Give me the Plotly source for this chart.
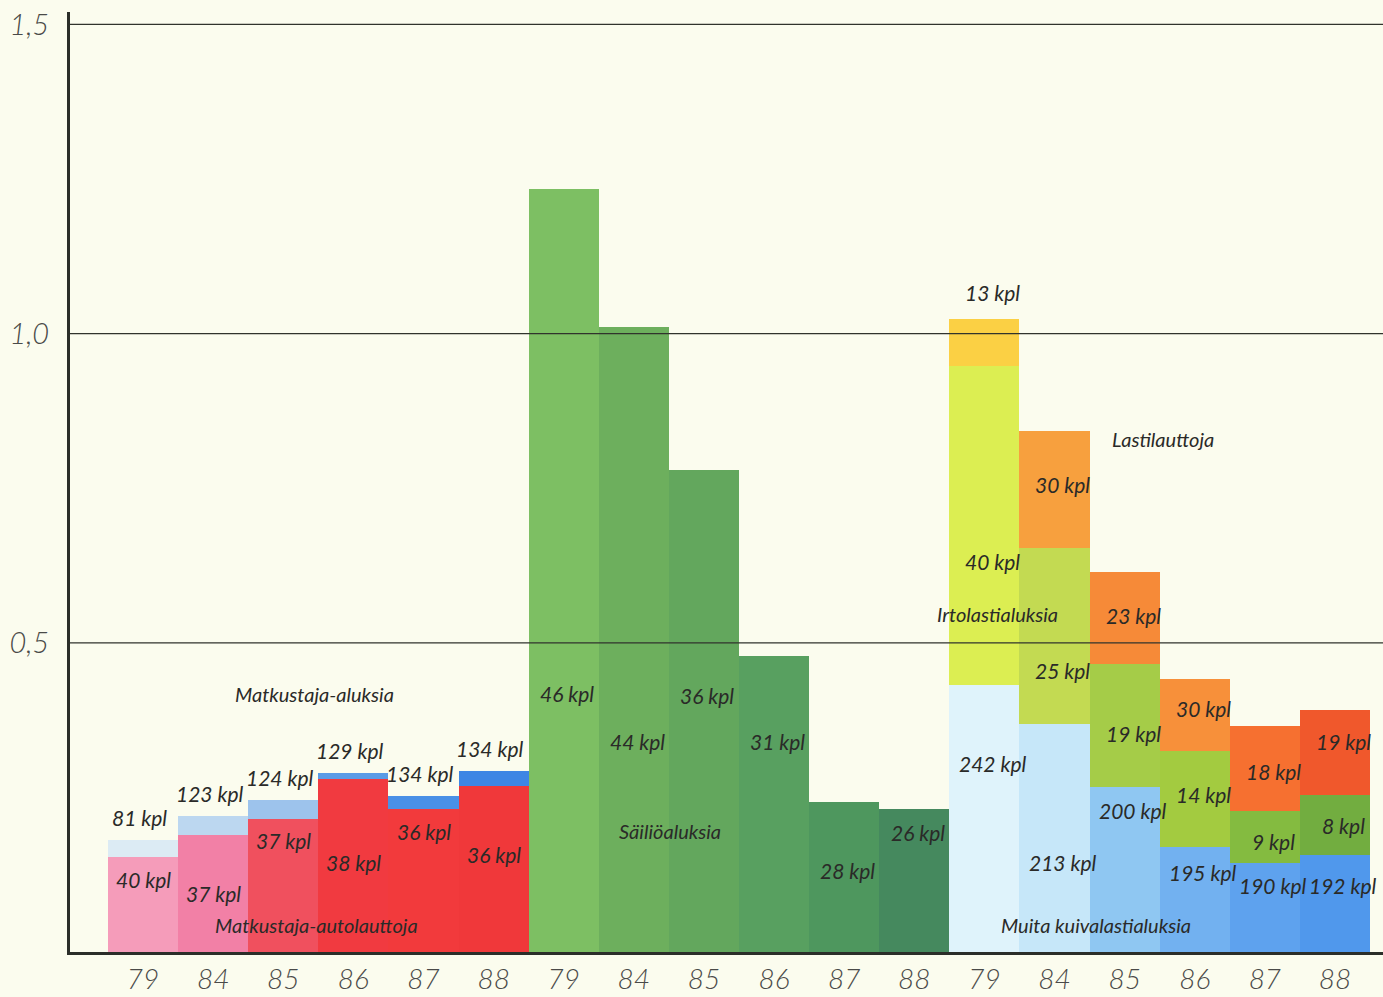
import plotly.graph_objects as go

# --- Data (million gross tons per vessel type and year) ---
years = ["79", "84", "85", "86", "87", "88"]

# Passenger vessels: car-passenger ferries (lower) + passenger ships (upper segment)
autolauttoja = [0.153, 0.189, 0.215, 0.279, 0.231, 0.269]
aluksia = [0.028, 0.031, 0.030, 0.011, 0.022, 0.023]

# Tankers
sailio = [1.234, 1.010, 0.779, 0.479, 0.243, 0.232]

# Dry cargo: other dry cargo (lower), bulk carriers (middle), cargo ferries (upper)
kuivalasti = [0.431, 0.368, 0.267, 0.169, 0.144, 0.157]
irtolasti = [0.516, 0.285, 0.199, 0.156, 0.084, 0.097]
lastilautat = [0.077, 0.189, 0.148, 0.117, 0.137, 0.137]

# Ship counts
autolauttoja_kpl = ["40 kpl", "37 kpl", "37 kpl", "38 kpl", "36 kpl", "36 kpl"]
aluksia_kpl = ["81 kpl", "123 kpl", "124 kpl", "129 kpl", "134 kpl", "134 kpl"]
sailio_kpl = ["46 kpl", "44 kpl", "36 kpl", "31 kpl", "28 kpl", "26 kpl"]
kuivalasti_kpl = ["242 kpl", "213 kpl", "200 kpl", "195 kpl", "190 kpl", "192 kpl"]
irtolasti_kpl = ["40 kpl", "25 kpl", "19 kpl", "14 kpl", "9 kpl", "8 kpl"]
lastilautat_kpl = ["13 kpl", "30 kpl", "23 kpl", "30 kpl", "18 kpl", "19 kpl"]

y_ticks = [0.5, 1.0, 1.5]
y_tick_text = ["0,5", "1,0", "1,5"]

# --- Styling ---
BG = "#fbfcee"
INK = "#2a2a28"
FONT = "Lato"

c_autolautta = ["#f59cba", "#f280a6", "#f0505e", "#f13a40", "#f23a3c", "#f0383a"]
c_aluksia = ["#dcebf4", "#bcd7f0", "#9dc3ec", "#5a9be6", "#4a90e6", "#3e86e4"]
c_sailio = ["#7dbf63", "#6daf5d", "#63a75d", "#58a060", "#4e975e", "#45895e"]
c_kuiva = ["#dff3fb", "#c6e7f9", "#8fc7f2", "#72b1f0", "#5ea2ee", "#5098ec"]
c_irto = ["#dcee52", "#c3da52", "#a5cc48", "#a3cb40", "#84bb40", "#72ad40"]
c_lasti = ["#fbd044", "#f7a03e", "#f68a38", "#f7903a", "#f67030", "#f0582c"]

# Label heights inside the bars
autolauttoja_label_y = [0.118, 0.095, 0.181, 0.145, 0.195, 0.157]
sailio_label_y = [0.418, 0.341, 0.415, 0.341, 0.132, 0.194]
kuivalasti_label_y = [0.305, 0.144, 0.229, 0.129, 0.107, 0.107]
irtolasti_label_y = [0.632, 0.456, 0.354, 0.254, 0.179, 0.205]
lastilautat_label_y = [1.066, 0.756, 0.544, 0.393, 0.292, 0.341]

n = len(years)
g1 = list(range(0, n))
g2 = list(range(n, 2 * n))
g3 = list(range(2 * n, 3 * n))

fig = go.Figure()


def add_bar(xs, ys, colors, name):
    fig.add_trace(go.Bar(
        x=xs, y=ys, name=name, width=1.0,
        marker=dict(color=colors, line=dict(width=0)),
        hoverinfo="name+y",
    ))


add_bar(g1, autolauttoja, c_autolautta, "Matkustaja-autolauttoja")
add_bar(g1, aluksia, c_aluksia, "Matkustaja-aluksia")
add_bar(g2, sailio, c_sailio, "Säiliöaluksia")
add_bar(g3, kuivalasti, c_kuiva, "Muita kuivalastialuksia")
add_bar(g3, irtolasti, c_irto, "Irtolastialuksia")
add_bar(g3, lastilautat, c_lasti, "Lastilauttoja")

annotations = []


def label(x, y, text, size=21, yanchor="middle", yshift=0):
    annotations.append(dict(
        x=x, y=y, text=text, showarrow=False, xref="x", yref="y",
        xanchor="center", yanchor=yanchor, yshift=yshift,
        font=dict(family=FONT, size=size, color=INK, style="italic"),
    ))


totals_g1 = [a + b for a, b in zip(autolauttoja, aluksia)]
for i in range(n):
    label(g1[i] - 0.05, totals_g1[i], aluksia_kpl[i], yanchor="bottom", yshift=8)
    label(g1[i], autolauttoja_label_y[i], autolauttoja_kpl[i])
    label(g2[i] + 0.05, sailio_label_y[i], sailio_kpl[i])
    label(g3[i] + 0.12, kuivalasti_label_y[i], kuivalasti_kpl[i])
    label(g3[i] + 0.12, irtolasti_label_y[i], irtolasti_kpl[i])
    label(g3[i] + 0.12, lastilautat_label_y[i], lastilautat_kpl[i])

# Series names
label(2.45, 0.418, "Matkustaja-aluksia", size=20)
label(2.47, 0.044, "Matkustaja-autolauttoja", size=20)
label(7.52, 0.195, "Säiliöaluksia", size=20)
label(12.18, 0.546, "Irtolastialuksia", size=20)
label(14.54, 0.830, "Lastilauttoja", size=20)
label(13.59, 0.044, "Muita kuivalastialuksia", size=20)

# Horizontal reference lines drawn over the bars
shapes = [
    dict(type="line", xref="paper", x0=0, x1=1, yref="y", y0=v, y1=v,
         line=dict(color="#30332c", width=1.3), layer="above")
    for v in y_ticks
]

fig.update_layout(
    width=1383, height=997,
    margin=dict(l=70, r=0, t=12, b=45),
    paper_bgcolor=BG, plot_bgcolor=BG,
    barmode="stack", bargap=0,
    showlegend=False,
    annotations=annotations,
    shapes=shapes,
    xaxis=dict(
        range=[-1.042, 17.685], automargin=False,
        tickmode="array", tickvals=g1 + g2 + g3, ticktext=years * 3,
        tickfont=dict(family=FONT, size=28, color="#4a4a48", style="italic", weight=300),
        ticks="", ticklabelstandoff=0,
        showgrid=False, zeroline=False,
        showline=True, linecolor="#2b2e29", linewidth=3,
    ),
    yaxis=dict(
        range=[0, 1.52], automargin=False,
        tickmode="array", tickvals=y_ticks, ticktext=y_tick_text,
        tickfont=dict(family=FONT, size=29, color="#4a4a48", style="italic", weight=300),
        ticks="", ticklabelstandoff=12,
        showgrid=False, zeroline=False,
        showline=True, linecolor="#2b2e29", linewidth=3,
    ),
)

fig.write_html("out.html")
